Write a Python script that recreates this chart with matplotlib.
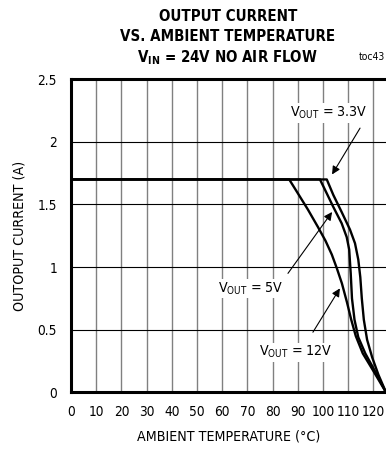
import matplotlib.pyplot as plt
from matplotlib import font_manager

# prefer a narrow sans face if one is installed
narrow = None
for f in font_manager.fontManager.ttflist:
    if f.name == "Liberation Sans Narrow" or (f.name == "DejaVu Sans" and f.stretch == "condensed"):
        narrow = f.name
        break
if narrow:
    plt.rcParams["font.stretch"] = "condensed"
    plt.rcParams["font.family"] = [narrow, "Liberation Sans", "DejaVu Sans"]
    base, head = 10.2, 10.8
else:
    plt.rcParams["font.family"] = ["Liberation Sans", "DejaVu Sans"]
    narrow = "Liberation Sans"
    base, head = 9.5, 10.5
plt.rcParams["mathtext.fontset"] = "custom"
plt.rcParams["mathtext.rm"] = narrow
plt.rcParams["mathtext.bf"] = narrow + ":bold"

# derating curves, output current (A) vs ambient temperature (C)
temp_12v = [0, 86.6, 90.0, 94.0, 98.0, 101.0, 103.5, 105.5, 107.5, 109.5, 111.2, 113.0, 115.8, 120.0, 125]
amps_12v = [1.7, 1.7, 1.59, 1.46, 1.32, 1.21, 1.10, 0.99, 0.87, 0.72, 0.58, 0.45, 0.31, 0.17, 0]

temp_5v = [0, 98.8, 100.5, 104.1, 107.4, 109.4, 110.4, 111.0, 111.5, 112.5, 114.0, 116.8, 120.6, 125]
amps_5v = [1.7, 1.7, 1.63, 1.48, 1.35, 1.24, 1.14, 0.95, 0.75, 0.58, 0.44, 0.31, 0.17, 0]

temp_3v3 = [0, 101.5, 104.1, 107.4, 110.7, 112.7, 114.0, 114.8, 115.4, 116.2, 117.5, 119.5, 122.0, 125]
amps_3v3 = [1.7, 1.7, 1.576, 1.44, 1.30, 1.19, 1.06, 0.92, 0.75, 0.58, 0.42, 0.28, 0.14, 0]

x_ticks = [0, 10, 20, 30, 40, 50, 60, 70, 80, 90, 100, 110, 120]
y_ticks = [0, 0.5, 1, 1.5, 2, 2.5]
y_tick_labels = ["0", "0.5", "1", "1.5", "2", "2.5"]

fig = plt.figure(figsize=(3.86, 4.5), dpi=100)
ax = fig.add_axes([0.1839, 0.1282, 0.8161, 0.6956])

for t in x_ticks[1:]:
    ax.axvline(t, color="#808080", lw=1.0, zorder=1)
for v in y_ticks[1:-1]:
    ax.axhline(v, color="black", lw=0.8, zorder=1)

for tt, aa in [(temp_12v, amps_12v), (temp_5v, amps_5v), (temp_3v3, amps_3v3)]:
    ax.plot(tt, aa, color="black", lw=1.7, zorder=3,
            solid_joinstyle="round", solid_capstyle="round")

ax.set_xlim(0, 125)
ax.set_ylim(0, 2.5)
ax.set_xticks(x_ticks)
ax.set_yticks(y_ticks)
ax.set_yticklabels(y_tick_labels)
ax.tick_params(length=0, labelsize=base - 0.4)
ax.tick_params(axis="x", pad=9)
ax.tick_params(axis="y", pad=10)
for side in ["left", "bottom", "top"]:
    ax.spines[side].set_linewidth(2.2)
ax.spines["right"].set_visible(False)

ax.set_xlabel("AMBIENT TEMPERATURE (°C)", fontsize=base, labelpad=8)
ax.set_ylabel("OUTOPUT CURRENT (A)", fontsize=base, labelpad=8)

arrow = dict(arrowstyle="-|>", color="black", lw=0.8, mutation_scale=12,
             shrinkA=0, shrinkB=0)
ax.annotate("", xy=(103.6, 1.74), xytext=(114.7, 2.11), arrowprops=arrow, zorder=4)
ax.annotate("", xy=(103.6, 1.44), xytext=(86.1, 0.95), arrowprops=arrow, zorder=4)
ax.annotate("", xy=(106.7, 0.83), xytext=(96.0, 0.48), arrowprops=arrow, zorder=4)

lbl = dict(fontsize=base, ha="center", va="center", zorder=5,
           bbox=dict(facecolor="white", edgecolor="none", pad=1))
ax.text(102.3, 2.23, r"V$_{\mathrm{OUT}}$ = 3.3V", **lbl)
ax.text(71.4, 0.83, r"V$_{\mathrm{OUT}}$ = 5V", **lbl)
ax.text(89.3, 0.32, r"V$_{\mathrm{OUT}}$ = 12V", **lbl)

fig.text(0.998, 0.873, "toc43", fontsize=7.5, ha="right", va="center")
fig.text(0.59, 0.963, "OUTPUT CURRENT", fontsize=head, fontweight="bold",
         ha="center", va="center")
fig.text(0.59, 0.918, "VS. AMBIENT TEMPERATURE", fontsize=head, fontweight="bold",
         ha="center", va="center")
fig.text(0.59, 0.872, r"V$_{\mathbf{IN}}$ = 24V NO AIR FLOW", fontsize=head,
         fontweight="bold", ha="center", va="center")

fig.savefig("out.png", dpi=100)
